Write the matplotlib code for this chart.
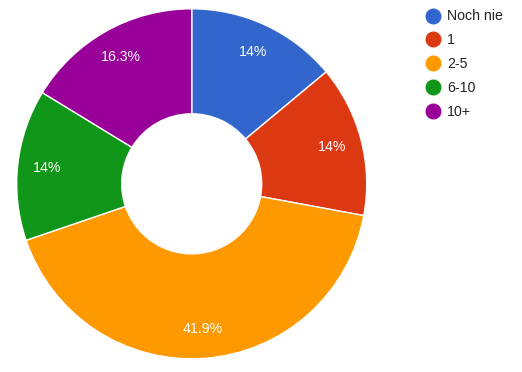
import matplotlib
matplotlib.use("Agg")
import matplotlib.pyplot as plt
from matplotlib.lines import Line2D

categories = ["Noch nie", "1", "2-5", "6-10", "10+"]
counts = [6, 6, 18, 6, 7]
colors = ["#3366cc", "#dc3912", "#ff9900", "#109618", "#990099"]

plt.rcParams['font.family'] = ['Liberation Sans', 'DejaVu Sans']

W, H = 522, 372
fig = plt.figure(figsize=(W / 100, H / 100), dpi=100)
ax = fig.add_axes([0, 0, 1, 1])

def fmt(p):
    s = f"{p:.1f}"
    if s.endswith(".0"):
        s = s[:-2]
    return s + "%"

wedges, texts, autotexts = ax.pie(
    counts, colors=colors, startangle=90, counterclock=False,
    center=(191.7, H - 183.8), radius=175,
    wedgeprops=dict(width=105, edgecolor="white", linewidth=1.0),
    autopct=fmt, pctdistance=0.83,
    textprops=dict(color="white", fontsize=10.2),
)
ax.set_xlim(0, W)
ax.set_ylim(0, H)
ax.set_aspect('equal')
ax.axis('off')

handles = [Line2D([0], [0], marker='o', linestyle='none', markersize=10.5,
                  markerfacecolor=c, markeredgecolor=c) for c in colors]
ax.legend(handles, categories, loc='upper left', frameon=False,
          bbox_to_anchor=(425 / W, 1 - 9.5 / H), bbox_transform=fig.transFigure,
          fontsize=10.2, labelcolor="#222222", handlelength=1.1, handletextpad=0.45,
          labelspacing=0.69, borderpad=0, borderaxespad=0)

fig.savefig("out.png", dpi=100)
